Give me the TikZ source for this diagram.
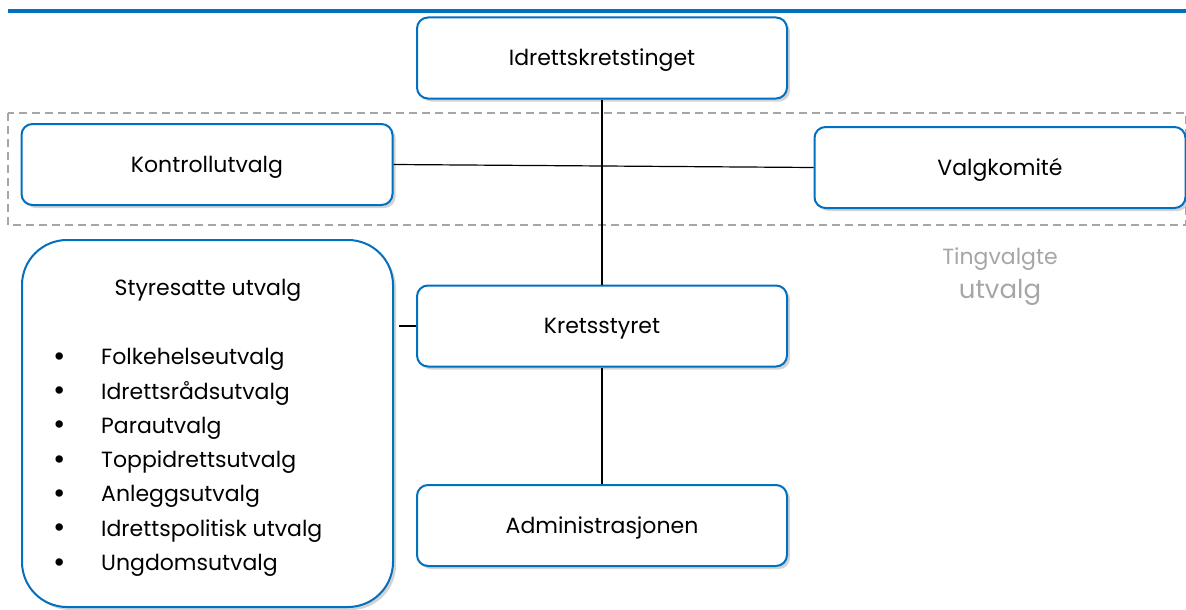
\documentclass[tikz,border=0pt]{standalone}
\usepackage{fontspec}
\setmainfont{Poppins}
\usepackage{xcolor}
\usetikzlibrary{positioning, shadows, calc}
\definecolor{orgblue}{HTML}{0070C0}
\definecolor{tinggray}{HTML}{A6A6A6}

\begin{document}
\begin{tikzpicture}[
    x=1pt, y=-1pt,
    unit/.style={font=\fontsize{22}{26}\selectfont, draw=orgblue, line width=2pt, rounded corners=11pt, fill=white, minimum width=370pt, minimum height=81pt, align=center, inner sep=0pt, text height=15.4pt, text depth=0pt, drop shadow={opacity=0.35, shadow xshift=3pt, shadow yshift=-3pt}},
    listitem/.style={font=\fontsize{22}{26}\selectfont, inner sep=0pt, text height=15.4pt, text depth=0pt},
    link/.style={black, line width=1.2pt}
]
  \useasboundingbox (0,0) rectangle (1186,610);

  % blue rule along the top
  \draw[orgblue, line width=4pt] (8,11) -- (1186,11);

  % dashed frame round the committees elected at the ting
  \draw[tinggray, line width=1.5pt, dash pattern=on 8pt off 5pt] (8,113) rectangle (1186,225);

  % boxes
  \node[unit] (ting) at (602,58) {Idrettskretstinget};
  \node[unit, minimum width=371pt] (kontroll) at (207,164.5) {Kontrollutvalg};
  \node[unit, minimum width=371pt] (valg) at (1000,167.5) {Valgkomité};
  \node[unit] (styret) at (602,326) {Kretsstyret};
  \node[unit] (admin) at (602,525.5) {Administrasjonen};

  % board-appointed committees
  \node[unit, minimum width=371pt, minimum height=367pt, rounded corners=45pt] (styresatte) at (207.5,423.5) {};
  \node[listitem] (styrtitle) at (208,288) {Styresatte utvalg};
  \foreach \txt [count=\i] in {Folkehelseutvalg, Idrettsrådsutvalg, Parautvalg, Toppidrettsutvalg, Anleggsutvalg, Idrettspolitisk utvalg, Ungdomsutvalg} {
    \node[font=\fontsize{30}{30}\selectfont, inner sep=0pt] (dot\i) at (60,325.2+34.3*\i) {\textbullet};
    \node[listitem, anchor=west] (item\i) at (101,322.7+34.3*\i) {\txt};
  }

  % grey caption
  \node[text=tinggray, inner sep=0pt, font=\fontsize{22}{26}\selectfont, text height=15.4pt, text depth=0pt] (tingtxt) at (1000,257) {Tingvalgte};
  \node[text=tinggray, inner sep=0pt, font=\fontsize{26}{30}\selectfont, text height=13.5pt, text depth=0pt] (utvtxt) at (1000,292) {utvalg};

  % connectors
  \draw[link] (ting.south) -- (styret.north);
  \draw[link] (kontroll.east) -- (valg.west);
  \draw[link] ([xshift=5pt]styresatte.east |- styret.west) -- (styret.west);
  \draw[link] (styret.south) -- (admin.north);

\end{tikzpicture}
\end{document}
